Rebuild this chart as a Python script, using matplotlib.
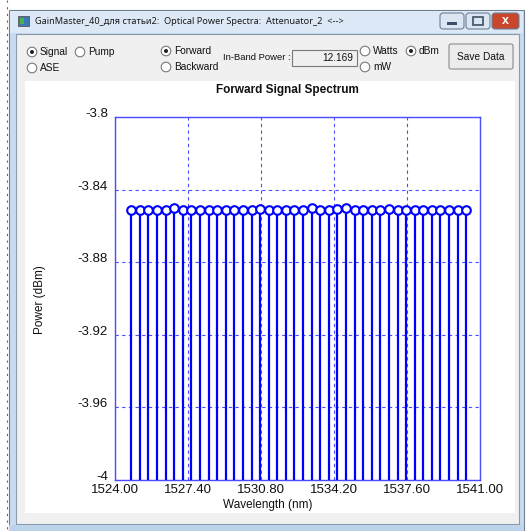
import matplotlib
matplotlib.use("Agg")
import matplotlib.pyplot as plt
from matplotlib.patches import Rectangle, Circle, FancyBboxPatch
import numpy as np

# ---------------- data ----------------
wavelengths = [1524.76, 1525.16, 1525.56, 1525.96, 1526.36, 1526.76, 1527.16, 1527.56,
               1527.96, 1528.36, 1528.76, 1529.16, 1529.56, 1529.96, 1530.36, 1530.76,
               1531.16, 1531.56, 1531.96, 1532.36, 1532.76, 1533.16, 1533.56, 1533.96,
               1534.36, 1534.76, 1535.16, 1535.56, 1535.96, 1536.36, 1536.76, 1537.16,
               1537.56, 1537.96, 1538.36, 1538.76, 1539.16, 1539.56, 1539.96, 1540.36]
powers = [-3.8512, -3.8512, -3.8512, -3.8512, -3.8512, -3.8503, -3.8512, -3.8512,
          -3.8512, -3.8512, -3.8512, -3.8512, -3.8512, -3.8512, -3.8512, -3.8508,
          -3.8512, -3.8512, -3.8512, -3.8512, -3.8512, -3.8503, -3.8512, -3.8512,
          -3.8508, -3.8503, -3.8512, -3.8512, -3.8512, -3.8512, -3.8508, -3.8512,
          -3.8512, -3.8512, -3.8512, -3.8512, -3.8512, -3.8512, -3.8512, -3.8512]
x_ticks = [1524.00, 1527.40, 1530.80, 1534.20, 1537.60, 1541.00]
x_ticklabels = ["1524.00", "1527.40", "1530.80", "1534.20", "1537.60", "1541.00"]
y_ticks = [-4.0, -3.96, -3.92, -3.88, -3.84, -3.8]
y_ticklabels = ["-4", "-3.96", "-3.92", "-3.88", "-3.84", "-3.8"]
title = "Forward Signal Spectrum"
xlabel = "Wavelength (nm)"
ylabel = "Power (dBm)"
window_title = "GainMaster_40_для статьи2:  Optical Power Spectra:  Attenuator_2  <-->"
in_band_power = "12.169"

W, H = 526, 531
fig = plt.figure(figsize=(W / 100, H / 100), dpi=100)
fig.patch.set_facecolor("white")

UI = ["Liberation Sans", "DejaVu Sans"]

# ---------------- window chrome (pixel overlay) ----------------
bg = fig.add_axes([0, 0, 1, 1], zorder=0)
bg.set_xlim(0, W)
bg.set_ylim(H, 0)
bg.axis("off")

bg.plot([7, 7], [0, H], color="#c04040", lw=0.8, ls=(0, (2, 4)))
bg.add_patch(Rectangle((9, 10), 515, 521, facecolor="#c9dbf0", edgecolor="#6f7f90", lw=0.8))
bg.add_patch(Rectangle((10, 11), 513, 22, facecolor="#dce8f5", edgecolor="none"))
bg.add_patch(Rectangle((16, 34), 503, 490, facecolor="#f0f0f0", edgecolor="#8a9aaa", lw=0.8))
bg.add_patch(Rectangle((25, 81), 490, 432, facecolor="white", edgecolor="none"))
bg.add_patch(Rectangle((9, 525), 515, 6, facecolor="#bcd3ec", edgecolor="none"))

bg.add_patch(Rectangle((18, 16), 11, 10, facecolor="#3c78b4", edgecolor="#555555", lw=0.6))
bg.add_patch(Rectangle((20, 18), 4, 6, facecolor="#4caf50", edgecolor="none"))
bg.text(35, 22, window_title, fontsize=6.6, family=["Noto Sans", "DejaVu Sans"],
        va="center", ha="left", color="#1a1a1a")

for x0, w, fc in [(440, 24, "#dbe6f2"), (466, 24, "#dbe6f2"), (492, 27, "#c9462c")]:
    bg.add_patch(FancyBboxPatch((x0, 13), w, 16, boxstyle="round,pad=0,rounding_size=3",
                                facecolor=fc, edgecolor="#6d7f95", lw=0.8))
bg.add_patch(Rectangle((447, 22), 10, 2.5, facecolor="#3d4f66", edgecolor="none"))
bg.add_patch(Rectangle((473, 17), 10, 8, facecolor="none", edgecolor="#3d4f66", lw=1.2))
bg.text(505.5, 21, "x", fontsize=9, fontweight="bold", color="white",
        ha="center", va="center", family=UI)


def radio(x, y, label, checked):
    bg.add_patch(Circle((x, y), 4.8, facecolor="white", edgecolor="#7a7a7a", lw=0.8))
    if checked:
        bg.add_patch(Circle((x, y), 2.0, facecolor="#202020", edgecolor="none"))
    bg.text(x + 8, y, label, fontsize=7.3, family=UI, va="center", ha="left", color="#111111")


radio(32, 52, "Signal", True)
radio(80, 52, "Pump", False)
radio(32, 68, "ASE", False)
radio(166, 51, "Forward", True)
radio(166, 67, "Backward", False)
radio(365, 51, "Watts", False)
radio(411, 51, "dBm", True)
radio(365, 67, "mW", False)

bg.text(223, 58, "In-Band Power :", fontsize=6.8, family=UI, va="center", ha="left", color="#111111")
bg.add_patch(Rectangle((292, 50), 65, 16, facecolor="#f0f0f0", edgecolor="#7a7a7a", lw=0.8))
bg.text(353, 58, in_band_power, fontsize=7.3, family=UI, va="center", ha="right", color="#111111")

bg.add_patch(FancyBboxPatch((449, 44), 64, 25, boxstyle="round,pad=0,rounding_size=2",
                            facecolor="#ececec", edgecolor="#8a8a8a", lw=0.8))
bg.text(481, 57, "Save Data", fontsize=7.3, family=UI, va="center", ha="center", color="#111111")

# chart texts placed like the reference panel
bg.text(287, 90, title, fontsize=8.5, fontweight="bold", family=UI,
        ha="center", va="center", color="#111111")
bg.text(268, 505, xlabel, fontsize=8.5, family=UI, ha="center", va="center", color="#111111")
bg.text(40, 300, ylabel, fontsize=8.5, family=UI, ha="center", va="center",
        rotation=90, color="#111111")

# ---------------- plot axes ----------------
left, right, top, bottom = 115, 480, 117, 480
ax = fig.add_axes([left / W, 1 - bottom / H, (right - left) / W, (bottom - top) / H], zorder=2)
ax.set_facecolor("white")

blue = "#0000ff"
ax.vlines(wavelengths, -4.0, powers, color=blue, lw=1.6, zorder=3)
ax.plot(wavelengths, powers, ls="none", marker="o", ms=6.2, mfc="white",
        mec=blue, mew=1.5, zorder=4)

ax.set_xlim(1524.0, 1541.0)
ax.set_ylim(-4.0, -3.8)
ax.set_xticks(x_ticks)
ax.set_xticklabels(x_ticklabels)
ax.set_yticks(y_ticks)
ax.set_yticklabels(y_ticklabels)
ax.tick_params(axis="x", length=0, labelsize=9.5, pad=3, colors="#111111")
ax.tick_params(axis="y", length=0, labelsize=9.5, pad=5, colors="#111111")
for lbl in ax.get_xticklabels() + ax.get_yticklabels():
    lbl.set_family(UI)
for lbl in ax.get_yticklabels():
    lbl.set_verticalalignment("baseline")
ax.grid(True, color="#3b3bff", ls=(0, (3, 3)), lw=0.8, alpha=0.9)
for s in ax.spines.values():
    s.set_color("#4a4aff")
    s.set_linewidth(1.0)

fig.savefig("out.png", dpi=100)
